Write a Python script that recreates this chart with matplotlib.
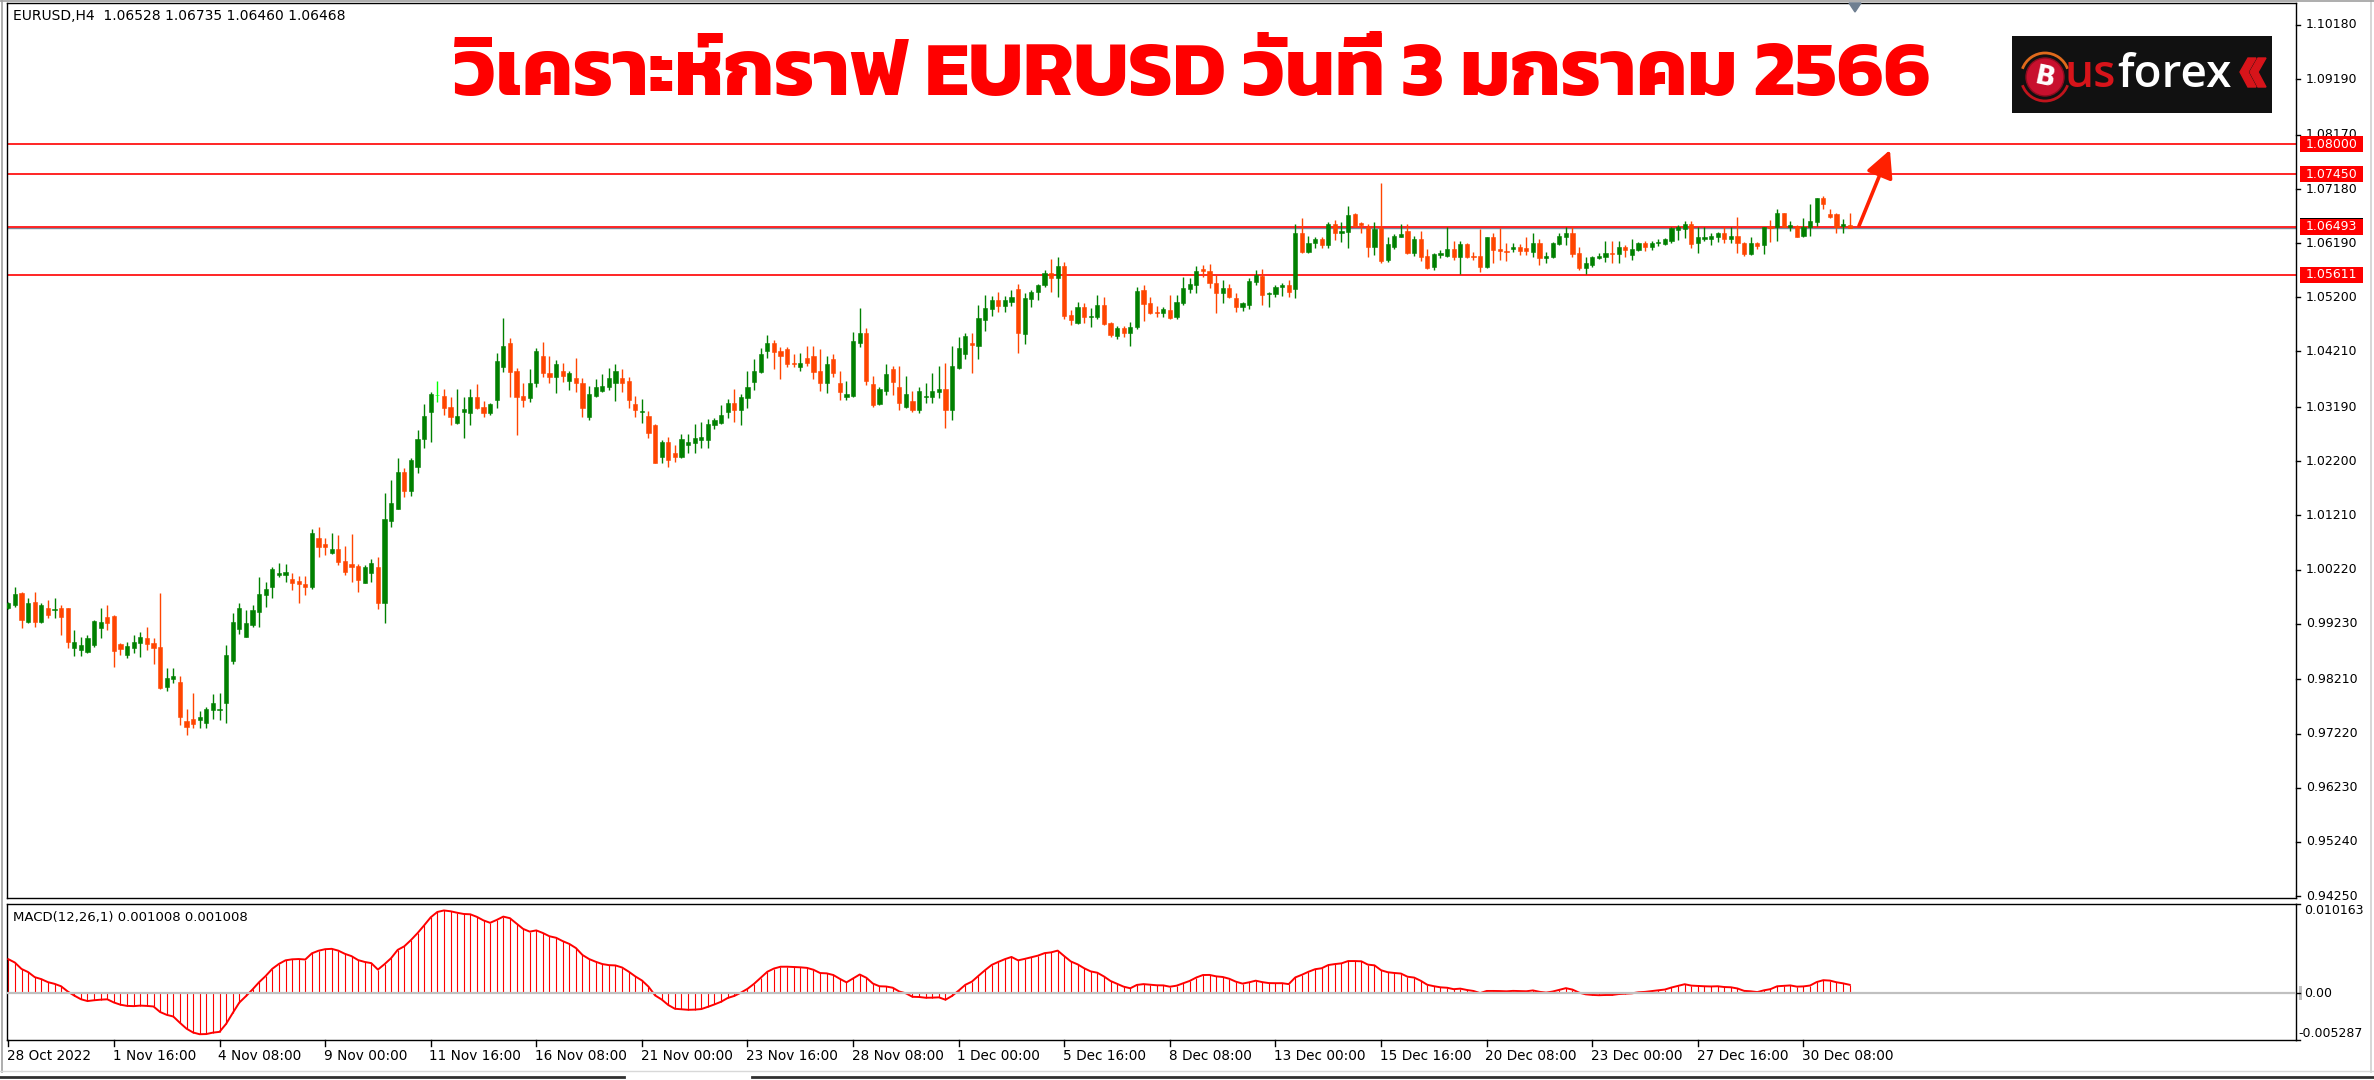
import numpy as np
import matplotlib
matplotlib.use("Agg")
import matplotlib.pyplot as plt
from matplotlib import font_manager as fm
from matplotlib.ft2font import FT2Font
from matplotlib.patches import Rectangle, Circle, Polygon, Arc
from matplotlib.lines import Line2D
import matplotlib.transforms as mtransforms

# ---------------- data (EURUSD H4, 28 Oct 2022 00:00 -> 2 Jan 2023 12:00) ----------------
OPEN = [
0.99510,0.99572,0.99785,0.99267,0.99633,0.99267,0.99510,0.99480,0.99510,0.99510,
0.98779,0.98748,0.98718,0.98840,0.99145,0.99358,0.99370,0.98858,0.98657,0.98779,
0.98882,0.98962,0.98870,0.98809,0.98065,0.98224,0.98169,0.97455,0.97479,0.97467,
0.97406,0.97650,0.97650,0.97772,0.98553,0.99126,0.98992,0.99206,0.99450,0.99755,
0.99907,1.00127,1.00121,1.00041,1.00010,0.99950,0.99895,1.00792,1.00688,1.00517,
1.00590,1.00383,1.00322,1.00285,0.99980,1.00151,1.00261,0.99600,1.01112,1.01320,
1.02009,1.01662,1.02088,1.02601,1.03107,1.03412,1.03394,1.03186,1.02894,1.03107,
1.03077,1.03369,1.03186,1.03077,1.03321,1.03918,1.04370,1.03857,1.03394,1.03351,
1.03626,1.04126,1.03821,1.03736,1.03851,1.03675,1.03730,1.03638,1.03016,1.03394,
1.03492,1.03565,1.03626,1.03730,1.03675,1.03247,1.03107,1.03034,1.02863,1.02284,
1.02546,1.02345,1.02284,1.02497,1.02528,1.02589,1.02589,1.02863,1.02894,1.03107,
1.03272,1.03138,1.03351,1.03656,1.03839,1.04224,1.04370,1.04217,1.04248,1.04004,
1.03918,1.04083,1.04126,1.03857,1.03626,1.04065,1.03638,1.03382,1.03394,1.04370,
1.04553,1.03614,1.03247,1.03492,1.03882,1.03553,1.03186,1.03308,1.03138,1.03382,
1.03382,1.03473,1.03516,1.03138,1.03900,1.04162,1.04370,1.04309,1.04785,1.04980,
1.05151,1.05041,1.05120,1.05350,1.04528,1.05163,1.05300,1.05420,1.05650,1.05550,
1.05780,1.04876,1.04736,1.05029,1.04833,1.04833,1.05059,1.04734,1.04490,1.04631,
1.04551,1.04649,1.05332,1.05088,1.04935,1.04917,1.04966,1.04844,1.05088,1.05344,
1.05424,1.05710,1.05686,1.05466,1.05271,1.05363,1.05180,1.05015,1.05058,1.05485,
1.05588,1.05259,1.05259,1.05381,1.05424,1.05344,1.06381,1.06034,1.06186,1.06259,
1.06156,1.06540,1.06381,1.06400,1.06723,1.06552,1.06479,1.06125,1.06461,1.05881,
1.06113,1.06308,1.06418,1.06003,1.06259,1.05954,1.05747,1.05973,1.05954,1.06076,
1.05930,1.06174,1.05954,1.05954,1.05747,1.06296,1.06076,1.06052,1.06076,1.06125,
1.06094,1.06033,1.06198,1.05911,1.05942,1.06174,1.06296,1.06381,1.06015,1.05728,
1.05789,1.05911,1.05942,1.06015,1.05991,1.06113,1.05972,1.06064,1.06198,1.06113,
1.06186,1.06174,1.06235,1.06430,1.06442,1.06540,1.06186,1.06259,1.06259,1.06308,
1.06381,1.06259,1.06320,1.06198,1.05991,1.06198,1.06155,1.06491,1.06491,1.06735,
1.06491,1.06503,1.06320,1.06491,1.06582,1.07009,1.06723,1.06723,1.06503,1.06528]

HIGH = [
0.99633,0.99907,0.99816,0.99694,0.99816,0.99602,0.99663,0.99694,0.99572,0.99523,
0.99114,0.98992,0.99023,0.99297,0.99510,0.99572,0.99389,0.98882,0.98901,0.99023,
0.99084,0.99175,0.98962,0.99785,0.98413,0.98413,0.98272,0.97662,0.97967,0.97638,
0.97699,0.97943,0.97967,0.98840,0.99419,0.99602,0.99480,0.99572,1.00078,0.99986,
1.00273,1.00346,1.00322,1.00163,1.00102,1.00102,1.00956,1.00993,1.00792,1.00895,
1.00853,1.00651,1.00871,1.00322,1.00304,1.00407,1.00444,1.01625,1.01857,1.02253,
1.02070,1.02253,1.02772,1.03248,1.03473,1.03674,1.03516,1.03369,1.03516,1.03369,
1.03516,1.03613,1.03308,1.03260,1.04187,1.04815,1.04449,1.03900,1.03638,1.03882,
1.04266,1.04388,1.04126,1.04053,1.04004,1.03851,1.04083,1.03717,1.03577,1.03699,
1.03796,1.03912,1.03979,1.03882,1.03736,1.03394,1.03333,1.03125,1.02882,1.02589,
1.02650,1.02497,1.02699,1.02699,1.02882,1.02924,1.02967,1.02985,1.03229,1.03333,
1.03516,1.03430,1.03858,1.04065,1.04266,1.04510,1.04419,1.04297,1.04297,1.04156,
1.04187,1.04309,1.04309,1.04248,1.04126,1.04156,1.03851,1.03675,1.04571,1.04998,
1.04632,1.03760,1.03565,1.03979,1.03943,1.03943,1.03760,1.03492,1.03553,1.03638,
1.03821,1.03943,1.04004,1.04309,1.04480,1.04541,1.04541,1.05059,1.05242,1.05224,
1.05303,1.05224,1.05334,1.05450,1.05273,1.05334,1.05450,1.05700,1.05900,1.05940,
1.05850,1.04968,1.05120,1.05090,1.04998,1.05242,1.05212,1.04753,1.04673,1.04673,
1.04753,1.05381,1.05424,1.05198,1.05039,1.05015,1.05241,1.05241,1.05576,1.05546,
1.05771,1.05790,1.05808,1.05607,1.05515,1.05442,1.05271,1.05119,1.05546,1.05698,
1.05710,1.05301,1.05424,1.05454,1.05515,1.06540,1.06644,1.06320,1.06308,1.06308,
1.06583,1.06613,1.06583,1.06869,1.06747,1.06583,1.06540,1.06583,1.07284,1.06296,
1.06357,1.06540,1.06540,1.06320,1.06418,1.06076,1.06003,1.06064,1.06479,1.06235,
1.06235,1.06186,1.06034,1.06442,1.06308,1.06369,1.06460,1.06198,1.06186,1.06174,
1.06295,1.06381,1.06259,1.06033,1.06216,1.06381,1.06479,1.06479,1.06113,1.05930,
1.05954,1.06003,1.06235,1.06235,1.06235,1.06155,1.06259,1.06216,1.06235,1.06235,
1.06259,1.06277,1.06491,1.06521,1.06601,1.06601,1.06479,1.06479,1.06369,1.06400,
1.06479,1.06491,1.06662,1.06216,1.06295,1.06216,1.06491,1.06613,1.06808,1.06747,
1.06601,1.06521,1.06643,1.06906,1.07021,1.07052,1.06808,1.06735,1.06625,1.06735]

LOW = [
0.99492,0.99541,0.99145,0.99236,0.99175,0.99236,0.99328,0.99328,0.99023,0.98779,
0.98638,0.98638,0.98687,0.98809,0.98962,0.99114,0.98431,0.98657,0.98596,0.98699,
0.98614,0.98748,0.98492,0.98028,0.98004,0.98138,0.97376,0.97193,0.97315,0.97315,
0.97315,0.97479,0.97467,0.97406,0.98492,0.99041,0.98980,0.99163,0.99163,0.99541,
0.99694,1.00090,0.99998,0.99846,0.99602,0.99755,0.99858,1.00456,1.00487,1.00505,
1.00304,1.00121,0.99998,0.99816,0.99968,0.99998,0.99492,0.99246,1.00990,1.01320,
1.01540,1.01564,1.01991,1.02436,1.02558,1.03290,1.03046,1.02863,1.02882,1.02619,
1.02863,1.03156,1.03016,1.03046,1.03168,1.03839,1.03382,1.02680,1.03199,1.03290,
1.03565,1.03748,1.03626,1.03443,1.03656,1.03504,1.03473,1.03016,1.02955,1.03382,
1.03473,1.03504,1.03308,1.03473,1.03168,1.03016,1.02894,1.02619,1.02162,1.02174,
1.02101,1.02192,1.02253,1.02345,1.02345,1.02436,1.02436,1.02784,1.02882,1.02985,
1.02924,1.02863,1.03168,1.03504,1.03821,1.04083,1.03882,1.03699,1.03918,1.03918,
1.03857,1.03943,1.03699,1.03492,1.03443,1.03736,1.03321,1.03321,1.03369,1.04284,
1.03595,1.03199,1.03229,1.03412,1.03412,1.03138,1.03168,1.03107,1.03077,1.03272,
1.03260,1.03351,1.02802,1.02955,1.03882,1.04065,1.03821,1.04065,1.04589,1.04858,
1.04937,1.04937,1.05041,1.04187,1.04345,1.05020,1.05150,1.05380,1.05300,1.05200,
1.04797,1.04693,1.04711,1.04736,1.04650,1.04797,1.04693,1.04478,1.04429,1.04466,
1.04307,1.04612,1.04771,1.04893,1.04844,1.04832,1.04795,1.04795,1.05058,1.05271,
1.05271,1.05564,1.05362,1.04917,1.05088,1.05180,1.04935,1.04954,1.04978,1.05424,
1.05058,1.05015,1.05210,1.05222,1.05210,1.05180,1.06003,1.06003,1.06095,1.06095,
1.06095,1.06247,1.06217,1.06095,1.06491,1.06369,1.05942,1.05973,1.05820,1.05851,
1.06076,1.06296,1.05991,1.05954,1.05869,1.05710,1.05698,1.05912,1.05930,1.05881,
1.05625,1.05912,1.05881,1.05668,1.05729,1.05832,1.05881,1.05869,1.06033,1.05972,
1.05972,1.05942,1.05789,1.05820,1.05911,1.06155,1.06155,1.05942,1.05698,1.05625,
1.05759,1.05893,1.05850,1.05832,1.05820,1.05942,1.05881,1.06052,1.06052,1.06064,
1.06137,1.06155,1.06186,1.06247,1.06277,1.06094,1.06003,1.06235,1.06155,1.06216,
1.06198,1.06186,1.06003,1.05954,1.05972,1.06076,1.05991,1.06216,1.06235,1.06479,
1.06418,1.06296,1.06296,1.06320,1.06503,1.06808,1.06643,1.06381,1.06381,1.06460]

CLOSE = [
0.99614,0.99773,0.99297,0.99602,0.99267,0.99572,0.99389,0.99505,0.99358,0.98901,
0.98901,0.98840,0.98974,0.99279,0.99267,0.99236,0.98736,0.98760,0.98821,0.98901,
0.98980,0.98858,0.98791,0.98046,0.98230,0.98272,0.97528,0.97345,0.97394,0.97516,
0.97668,0.97784,0.97668,0.98657,0.99267,0.99510,0.99236,0.99480,0.99773,0.99865,
1.00224,1.00151,1.00169,0.99968,0.99950,0.99907,1.00895,1.00639,1.00639,1.00590,
1.00365,1.00182,1.00273,1.00029,1.00261,1.00346,0.99614,1.01137,1.01442,1.02009,
1.01662,1.02223,1.02607,1.03034,1.03430,1.03412,1.03168,1.03016,1.03028,1.03150,
1.03369,1.03168,1.03077,1.03247,1.04040,1.04309,1.03839,1.03382,1.03321,1.03638,
1.04217,1.03809,1.03736,1.03979,1.03760,1.03821,1.03626,1.03168,1.03430,1.03553,
1.03577,1.03730,1.03851,1.03638,1.03321,1.03138,1.03125,1.02711,1.02162,1.02558,
1.02223,1.02284,1.02607,1.02558,1.02619,1.02650,1.02882,1.02955,1.03046,1.03272,
1.03138,1.03369,1.03553,1.03851,1.04156,1.04370,1.04193,1.04132,1.03979,1.03979,
1.04004,1.04004,1.03839,1.03626,1.03973,1.03809,1.03473,1.03430,1.04400,1.04541,
1.03675,1.03229,1.03516,1.03791,1.03656,1.03260,1.03430,1.03138,1.03492,1.03400,
1.03492,1.03516,1.03138,1.03943,1.04266,1.04492,1.04327,1.04815,1.04998,1.05151,
1.05041,1.05151,1.05212,1.04541,1.05181,1.05303,1.05420,1.05650,1.05550,1.05780,
1.04858,1.04785,1.05029,1.04833,1.04858,1.05059,1.04712,1.04509,1.04631,1.04551,
1.04661,1.05320,1.05076,1.04917,1.04917,1.04978,1.04814,1.05119,1.05363,1.05442,
1.05686,1.05686,1.05454,1.05271,1.05363,1.05210,1.05015,1.05088,1.05503,1.05607,
1.05241,1.05283,1.05393,1.05424,1.05302,1.06381,1.06034,1.06198,1.06259,1.06156,
1.06540,1.06369,1.06412,1.06705,1.06503,1.06522,1.06125,1.06442,1.05869,1.06174,
1.06320,1.06357,1.06003,1.06259,1.05930,1.05729,1.05991,1.06003,1.06076,1.05930,
1.06174,1.05930,1.05942,1.05759,1.06296,1.06064,1.06052,1.06033,1.06125,1.06052,
1.06052,1.06198,1.05911,1.05954,1.06198,1.06320,1.06381,1.05991,1.05728,1.05832,
1.05930,1.05954,1.06015,1.05991,1.06113,1.06064,1.06076,1.06186,1.06125,1.06198,
1.06216,1.06259,1.06460,1.06479,1.06540,1.06174,1.06296,1.06296,1.06320,1.06381,
1.06259,1.06320,1.06186,1.05991,1.06198,1.06137,1.06479,1.06460,1.06735,1.06491,
1.06521,1.06308,1.06491,1.06601,1.07009,1.06906,1.06662,1.06491,1.06540,1.06468]

X_LABELS = ["28 Oct 2022", "1 Nov 16:00", "4 Nov 08:00", "9 Nov 00:00", "11 Nov 16:00",
            "16 Nov 08:00", "21 Nov 00:00", "23 Nov 16:00", "28 Nov 08:00", "1 Dec 00:00",
            "5 Dec 16:00", "8 Dec 08:00", "13 Dec 00:00", "15 Dec 16:00", "20 Dec 08:00",
            "23 Dec 00:00", "27 Dec 16:00", "30 Dec 08:00"]
BARS_PER_LABEL = 16
PRICE_TICKS = [1.10180, 1.09190, 1.08170, 1.07180, 1.06190, 1.05200, 1.04210, 1.03190,
               1.02200, 1.01210, 1.00220, 0.99230, 0.98210, 0.97220, 0.96230, 0.95240, 0.94250]
LEVELS = [1.08000, 1.07450, 1.06493, 1.05611]
BID = 1.06468
MACD_FAST, MACD_SLOW = 12, 26
EMA_FAST_SEED, EMA_SLOW_SEED = 0.9995, 0.9950   # EMA state before the first visible bar
MACD_TOP, MACD_BOTTOM = 0.010163, -0.005287
HEADER = "EURUSD,H4  1.06528 1.06735 1.06460 1.06468"
MACD_HEADER = "MACD(12,26,1) 0.001008 0.001008"
TITLE = "วิเคราะห์กราฟ EURUSD วันที่ 3 มกราคม 2566"

# ---------------- figure geometry ----------------
W, H = 2374, 1080
fig = plt.figure(figsize=(W / 100, H / 100), dpi=100)
fig.patch.set_facecolor("white")

def fx(px):
    return px / W

def fy(py):
    return 1 - py / H

L_PX, R_PX = 7, 2296
MAIN_T, MAIN_B = 3, 898
SUB_T, SUB_B = 904, 1040
ax = fig.add_axes([fx(L_PX), fy(MAIN_B), (R_PX - L_PX) / W, (MAIN_B - MAIN_T) / H])
axm = fig.add_axes([fx(L_PX), fy(SUB_B), (R_PX - L_PX) / W, (SUB_B - SUB_T) / H])

BAR_PX, BAR0_PX = 6.6, 8.3
for a in (ax, axm):
    a.set_xlim((L_PX - BAR0_PX) / BAR_PX, (R_PX - BAR0_PX) / BAR_PX)
    a.set_xticks([]); a.set_yticks([])
    for s in a.spines.values():
        s.set_color("black"); s.set_linewidth(1.0)
PPU = 5467.7   # pixels per price unit
REF_PX = 25    # pixel row of the 1.10180 tick
ax.set_ylim(PRICE_TICKS[0] - (MAIN_B - REF_PX) / PPU, PRICE_TICKS[0] + (REF_PX - MAIN_T) / PPU)
axm.set_ylim(MACD_BOTTOM, MACD_TOP)

# ---------------- fonts ----------------
thai_names = set()
for f in fm.fontManager.ttflist:
    try:
        cm = FT2Font(f.fname).get_charmap()
    except Exception:
        continue
    if 0x0E27 in cm and 0x0E34 in cm:
        thai_names.add(f.name)
thai_name = "DejaVu Sans"
for cand in ["Kanit", "Prompt", "Mitr", "Noto Sans Thai", "Sarabun", "IBM Plex Sans Thai",
             "Anuphan", "Noto Sans Thai Looped"]:
    if cand in thai_names:
        thai_name = cand
        break
else:
    if thai_names:
        thai_name = sorted(thai_names)[0]
UI = "DejaVu Sans"

# ---------------- candles ----------------
o, h, l, c = (np.array(v) for v in (OPEN, HIGH, LOW, CLOSE))
idx = np.arange(len(c))
GREEN, RED, LIME = "#008000", "#FF4500", "#00FF00"
col = np.where(c > o, GREEN, np.where(c < o, RED, LIME))
ax.vlines(idx, l, h, colors=col, lw=1.0, zorder=3)
body_lo = np.minimum(o, c)
body_h = np.maximum(np.abs(c - o), 0.00002)
ax.bar(idx, body_h, bottom=body_lo, width=0.62, color=col, edgecolor=col,
       linewidth=0.4, zorder=4)

# horizontal levels and bid line
for lv in LEVELS:
    ax.axhline(lv, color="#FF0000", lw=1.2, zorder=2)
ax.axhline(BID, color="#778899", lw=1.0, zorder=1.5)

# arrow
ax.annotate("", xy=(285.1, 1.07894), xytext=(280.4, 1.06504),
            arrowprops=dict(arrowstyle="-|>,head_length=0.75,head_width=0.38",
                            color="#FF2000", lw=2.6, mutation_scale=22,
                            shrinkA=0, shrinkB=0), zorder=6)

# right price axis
tr_main = mtransforms.blended_transform_factory(fig.transFigure, ax.transData)
for p in PRICE_TICKS:
    ax.plot([fx(R_PX), fx(R_PX + 4)], [p, p], transform=tr_main, color="black", lw=1, clip_on=False)
    ax.text(fx(2306), p, f"{p:.5f}", transform=tr_main, fontsize=9, family=UI,
            va="center", ha="left", color="black", clip_on=False)
box_h = 16 / PPU
ax.add_patch(Rectangle((fx(2300), BID - box_h / 2 + 2 / PPU), fx(63), box_h, transform=tr_main,
                       facecolor="black", edgecolor="none", clip_on=False, zorder=8))
for lv in LEVELS:
    ax.add_patch(Rectangle((fx(2300), lv - box_h / 2), fx(63), box_h, transform=tr_main,
                           facecolor="#FF0000", edgecolor="none", clip_on=False, zorder=9))
    ax.text(fx(2306), lv, f"{lv:.5f}", transform=tr_main, fontsize=9, family=UI,
            va="center", ha="left", color="white", clip_on=False, zorder=10)

# header text
fig.text(fx(13), fy(16), HEADER, fontsize=10, family=UI, va="center", ha="left")

# ---------------- MACD ----------------
a_f, a_s = 2 / (MACD_FAST + 1), 2 / (MACD_SLOW + 1)
ef, es = EMA_FAST_SEED, EMA_SLOW_SEED
macd = []
for v in c:
    ef += a_f * (v - ef)
    es += a_s * (v - es)
    macd.append(ef - es)
macd = np.array(macd)
axm.vlines(idx, 0, macd, colors="#FF0000", lw=0.8, zorder=2)
axm.plot(idx, macd, color="#FF0000", lw=1.4, zorder=3)
axm.axhline(0, color="#C0C0C0", lw=1.6, zorder=4)
fig.text(fx(13), fy(918), MACD_HEADER, fontsize=9.5, family=UI, va="center", ha="left")

tr_sub = mtransforms.blended_transform_factory(fig.transFigure, axm.transData)
axm.text(fx(2304), MACD_TOP, f"{MACD_TOP:.6f}", transform=tr_sub, fontsize=9, family=UI,
         va="top", ha="left", clip_on=False)
axm.text(fx(2304), 0, "0.00", transform=tr_sub, fontsize=9, family=UI,
         va="center", ha="left", clip_on=False)
axm.add_patch(Rectangle((fx(2299), -7 / 8800), fx(3), 14 / 8800, transform=tr_sub,
                        facecolor="#C0C0C0", edgecolor="none", clip_on=False))
axm.text(fx(2298), MACD_BOTTOM, f"{MACD_BOTTOM:.6f}", transform=tr_sub, fontsize=9, family=UI,
         va="bottom", ha="left", clip_on=False)
for p in (MACD_TOP, 0, MACD_BOTTOM):
    axm.plot([fx(R_PX), fx(R_PX + 4)], [p, p], transform=tr_sub, color="black", lw=1, clip_on=False)

# time axis
tr_time = mtransforms.blended_transform_factory(axm.transData, fig.transFigure)
for k, lab in enumerate(X_LABELS):
    b = k * BARS_PER_LABEL
    axm.plot([b, b], [fy(SUB_B), fy(SUB_B + 6)], transform=tr_time, color="black", lw=1, clip_on=False)
    axm.text(b - 0.2, fy(1056), lab, transform=tr_time, fontsize=9.8, family=UI,
             va="center", ha="left", clip_on=False)

# ---------------- frame decorations ----------------
fig.add_artist(Line2D([fx(2), fx(2)], [fy(1072), 1], color="#A0A0A0", lw=1.2))
fig.add_artist(Line2D([fx(2371), fx(2371)], [fy(1072), 1], color="#D0D0D0", lw=1.2))
fig.add_artist(Line2D([0, 1], [fy(1), fy(1)], color="#A0A0A0", lw=1.2))
fig.add_artist(Line2D([0, 1], [fy(1071), fy(1071)], color="#D8D8D8", lw=1.0))
fig.add_artist(Line2D([0, fx(624)], [fy(1077), fy(1077)], color="#303030", lw=2.0))
fig.add_artist(Line2D([fx(752), 1], [fy(1077), fy(1077)], color="#303030", lw=2.0))
fig.add_artist(Polygon([[fx(1849), fy(3)], [fx(1861), fy(3)], [fx(1855), fy(12)]],
                       closed=True, color="#6E7F91", transform=fig.transFigure))

# ---------------- title ----------------
title = fig.text(fx(1192), fy(95), TITLE, color="#FF0000", fontsize=46, fontweight="bold",
                 family=[thai_name, "DejaVu Sans"], ha="center", va="baseline")
fig.canvas.draw()
tw = title.get_window_extent().width
title.set_fontsize(46 * 1476 / tw)

# ---------------- logo ----------------
lg = fig.add_axes([fx(2012), fy(113), 260 / W, 77 / H])
lg.set_xlim(0, 260); lg.set_ylim(77, 0); lg.axis("off")
lg.add_patch(Rectangle((0, 0), 260, 77, facecolor="#111111", edgecolor="none"))
lg.add_patch(Arc((33, 41), 48, 48, theta1=200, theta2=340, color="#E06A1C", lw=2))
lg.add_patch(Arc((33, 41), 48, 48, theta1=20, theta2=160, color="#C0141C", lw=2))
lg.add_patch(Circle((33, 41), 19, facecolor="#C8102E", edgecolor="#8E0C1E", lw=1))
lg.text(33, 42, "B", color="white", fontsize=19, fontweight="bold", family="DejaVu Sans",
        ha="center", va="center", rotation=-12)
t_us = lg.text(53, 51, "us", color="#D7141A", fontsize=33, fontweight="semibold", family="Open Sans",
               ha="left", va="baseline")
fig.canvas.draw()
bb = t_us.get_window_extent()
us_right = bb.x1 - fig.bbox.width * fx(2012)
lg.text(us_right + 1, 51, "forex", color="white", fontsize=33, fontweight="semibold",
        family="Open Sans", ha="left", va="baseline")
for dx in (0, 10):
    lg.add_patch(Polygon([[236 + dx, 22], [244 + dx, 22], [236 + dx, 36], [244 + dx, 51],
                          [236 + dx, 51], [228 + dx, 36]], closed=True, color="#D7141A"))

fig.savefig("out.png", dpi=100, facecolor="white")
